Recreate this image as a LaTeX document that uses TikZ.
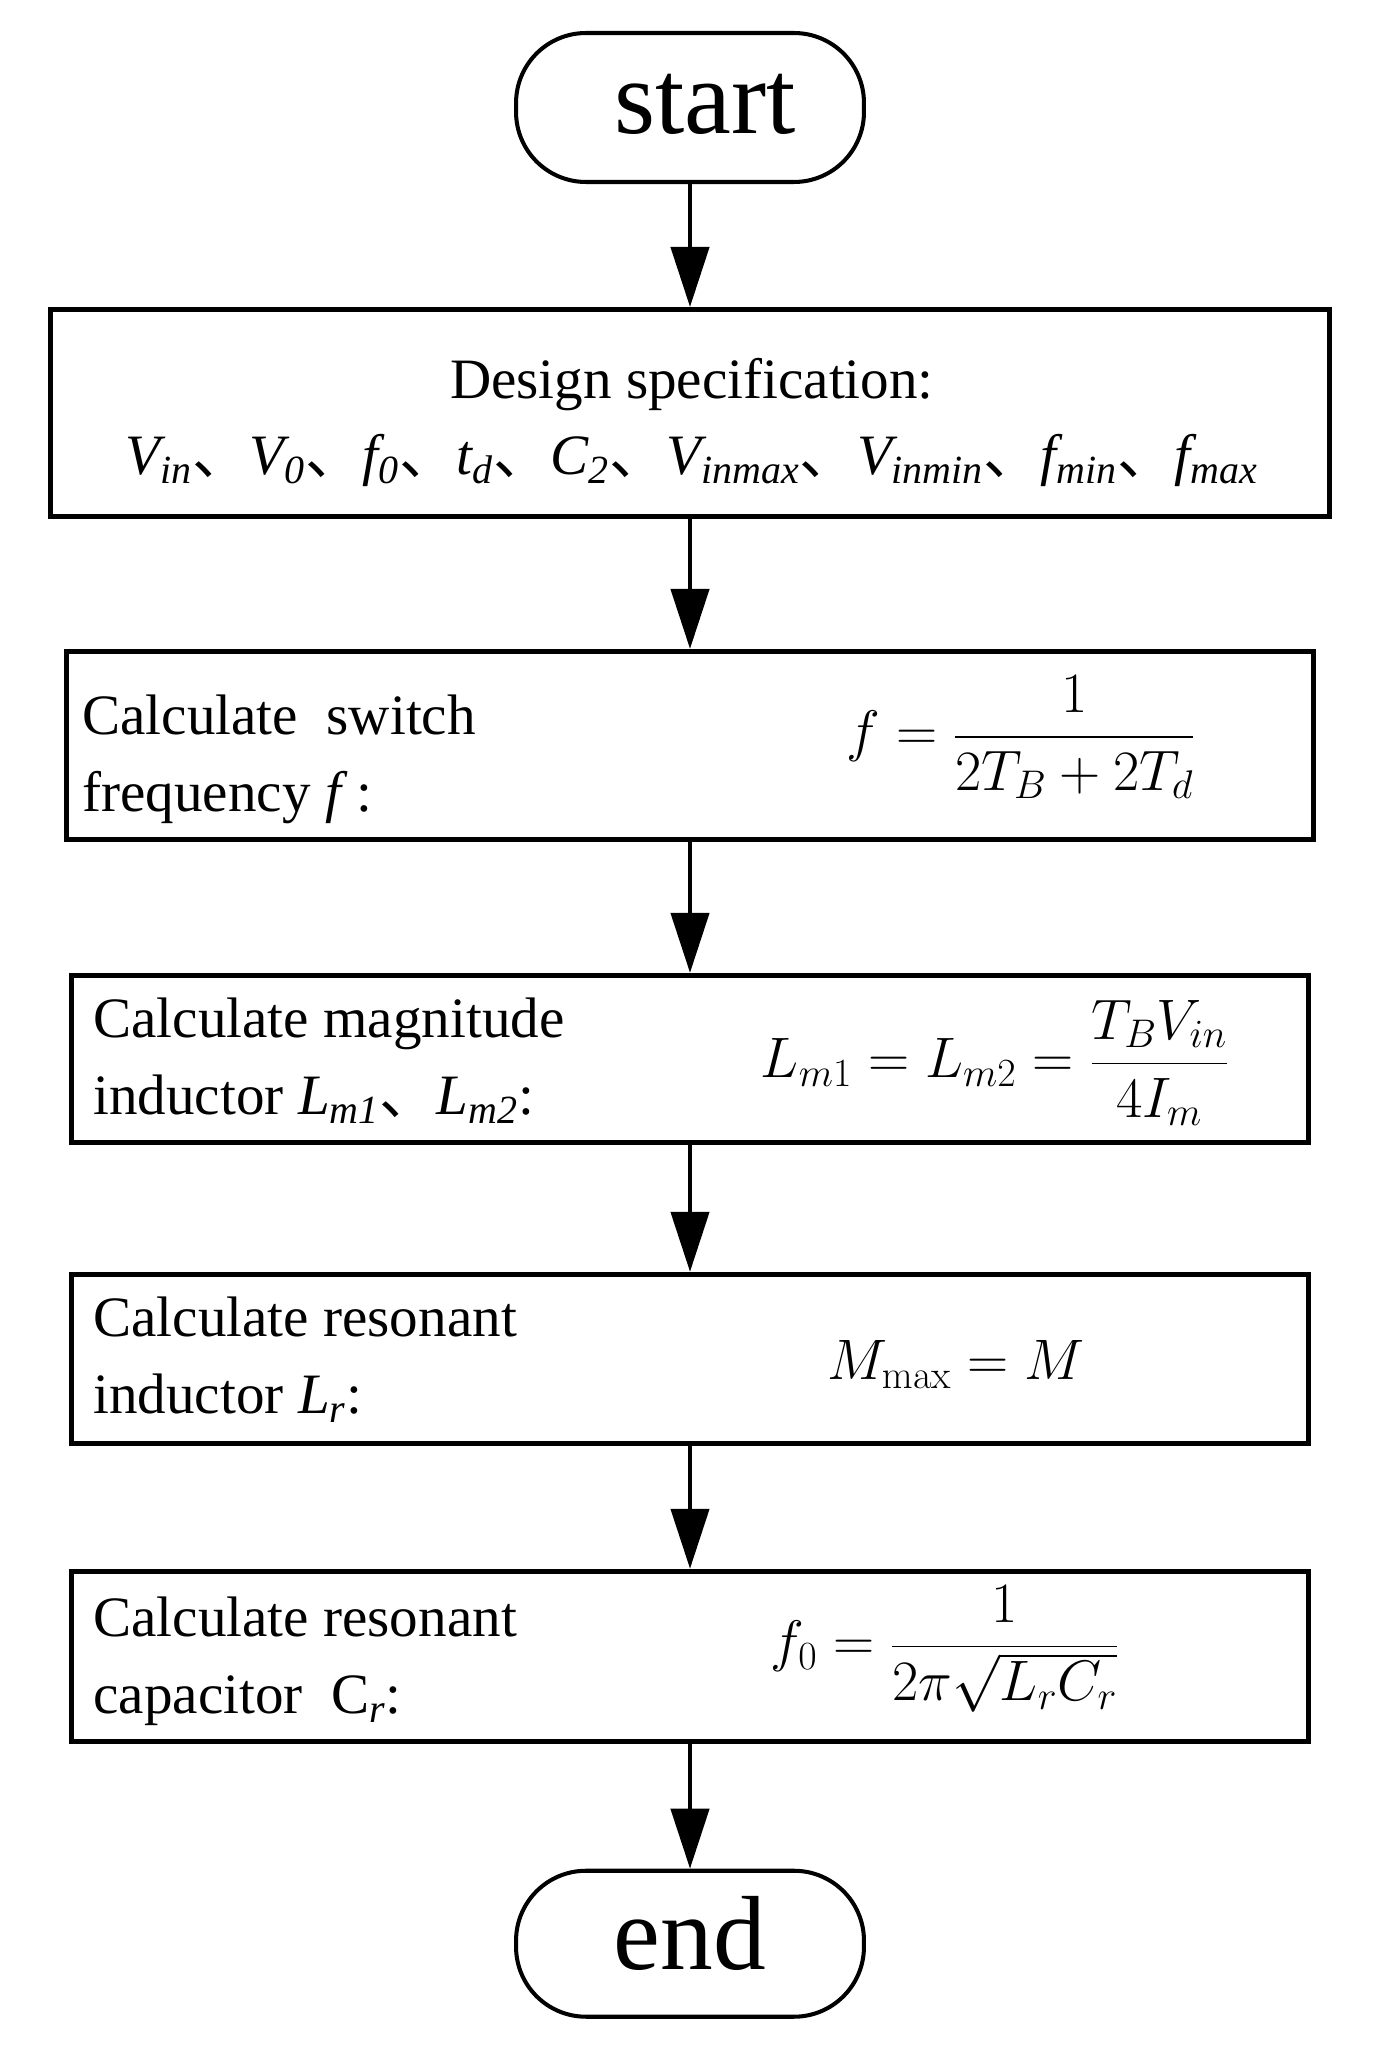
\RequirePackage{fix-cm}
\documentclass[tikz,border=0pt]{standalone}
\usepackage{amsmath}
\usepackage[no-math]{fontspec}
\setmainfont{Liberation Serif}
\newfontfamily\cjk{Noto Sans CJK SC}
\usetikzlibrary{positioning, arrows.meta, calc}

\newcommand{\dun}{{\cjk 、}}
\newcommand{\isub}[2]{\textit{#1\textsubscript{#2}}}

\begin{document}
\begin{tikzpicture}[
    x=0.02cm, y=-0.02cm,
    >={Triangle[length=1.2cm, width=0.76cm]},
    term/.style={rectangle, draw, line width=2.3pt, rounded corners=1.4cm, minimum width=6.96cm, minimum height=2.98cm, font=\fontsize{60}{72}\selectfont, text height=1.26cm, text depth=0.23cm},
    stepbox/.style={rectangle, draw, line width=2.85pt, minimum width=24.74cm},
    txt/.style={inner sep=0pt, align=left, font=\fontsize{32.5}{43.8}\selectfont},
    eq/.style={inner sep=0pt, font=\fontsize{32.5}{43.8}\selectfont},
    flow/.style={->, line width=2.5pt}
]
\useasboundingbox (0,0) rectangle (1374,2068);

% 1. Start (Top)
\node[term] (start) at (690,107.5) {\hspace*{0.6cm}start};

% 2. Design specification
\node[stepbox, minimum width=25.6cm, minimum height=4.14cm, below=2.46cm of start] (spec) {};
\node[txt, align=center, anchor=base] (spectxt) at ($(spec.north)+(2,168)$) {Design specification:\\
    \isub{V}{in}\dun\isub{V}{0}\dun\isub{f}{0}\dun\isub{t}{d}\dun\isub{C}{2}\dun\isub{V}{inmax}\dun\isub{V}{inmin}\dun\isub{f}{min}\dun\isub{f}{max}};

% 3. Switch frequency
\node[stepbox, minimum width=24.94cm, minimum height=3.76cm, below=2.6cm of spec] (freq) {};
\node[txt, anchor=base west] (freqtxt) at ($(freq.north west)+(18,163)$) {Calculate\ \ switch\\frequency \textit{f}\,:};
\node[eq, anchor=base] (freqeq) at ($(freq.north)+(331,102)$) {$\displaystyle f=\frac{1}{2T_B+2T_d}$};

% 4. Magnitude inductor
\node[stepbox, minimum height=3.34cm, below=2.62cm of freq] (mag) {};
\node[txt, anchor=base west] (magtxt) at ($(mag.north west)+(24,142)$) {Calculate magnitude\\inductor \isub{L}{m1}\dun\isub{L}{m2}:};
\node[eq, anchor=base] (mageq) at ($(mag.north)+(305,105)$) {$\displaystyle L_{m1}=L_{m2}=\frac{T_BV_{in}}{4I_m}$};

% 5. Resonant inductor
\node[stepbox, minimum height=3.38cm, below=2.54cm of mag] (lr) {};
\node[txt, anchor=base west] (lrtxt) at ($(lr.north west)+(24,142)$) {Calculate resonant\\inductor \isub{L}{r}:};
\node[eq, anchor=base] (lreq) at ($(lr.north)+(266,108)$) {$M_{\max}=M$};

% 6. Resonant capacitor
\node[stepbox, minimum height=3.4cm, below=2.46cm of lr] (cr) {};
\node[txt, anchor=base west] (crtxt) at ($(cr.north west)+(24,145)$) {Calculate resonant\\capacitor\ \ C\textsubscript{\itshape r}:};
\node[eq, anchor=base] (creq) at ($(cr.north)+(255,92)$) {$\displaystyle f_0=\frac{1}{2\pi\sqrt{L_rC_r}}$};

% 7. End (Bottom)
\node[term, minimum height=2.92cm, below=2.5cm of cr] (end) {end};

% Paths
\draw[flow] (start.south) -- (spec.north);
\draw[flow] (spec.south) -- (freq.north);
\draw[flow] (freq.south) -- (mag.north);
\draw[flow] (mag.south) -- (lr.north);
\draw[flow] (lr.south) -- (cr.north);
\draw[flow] (cr.south) -- (end.north);

\end{tikzpicture}
\end{document}
